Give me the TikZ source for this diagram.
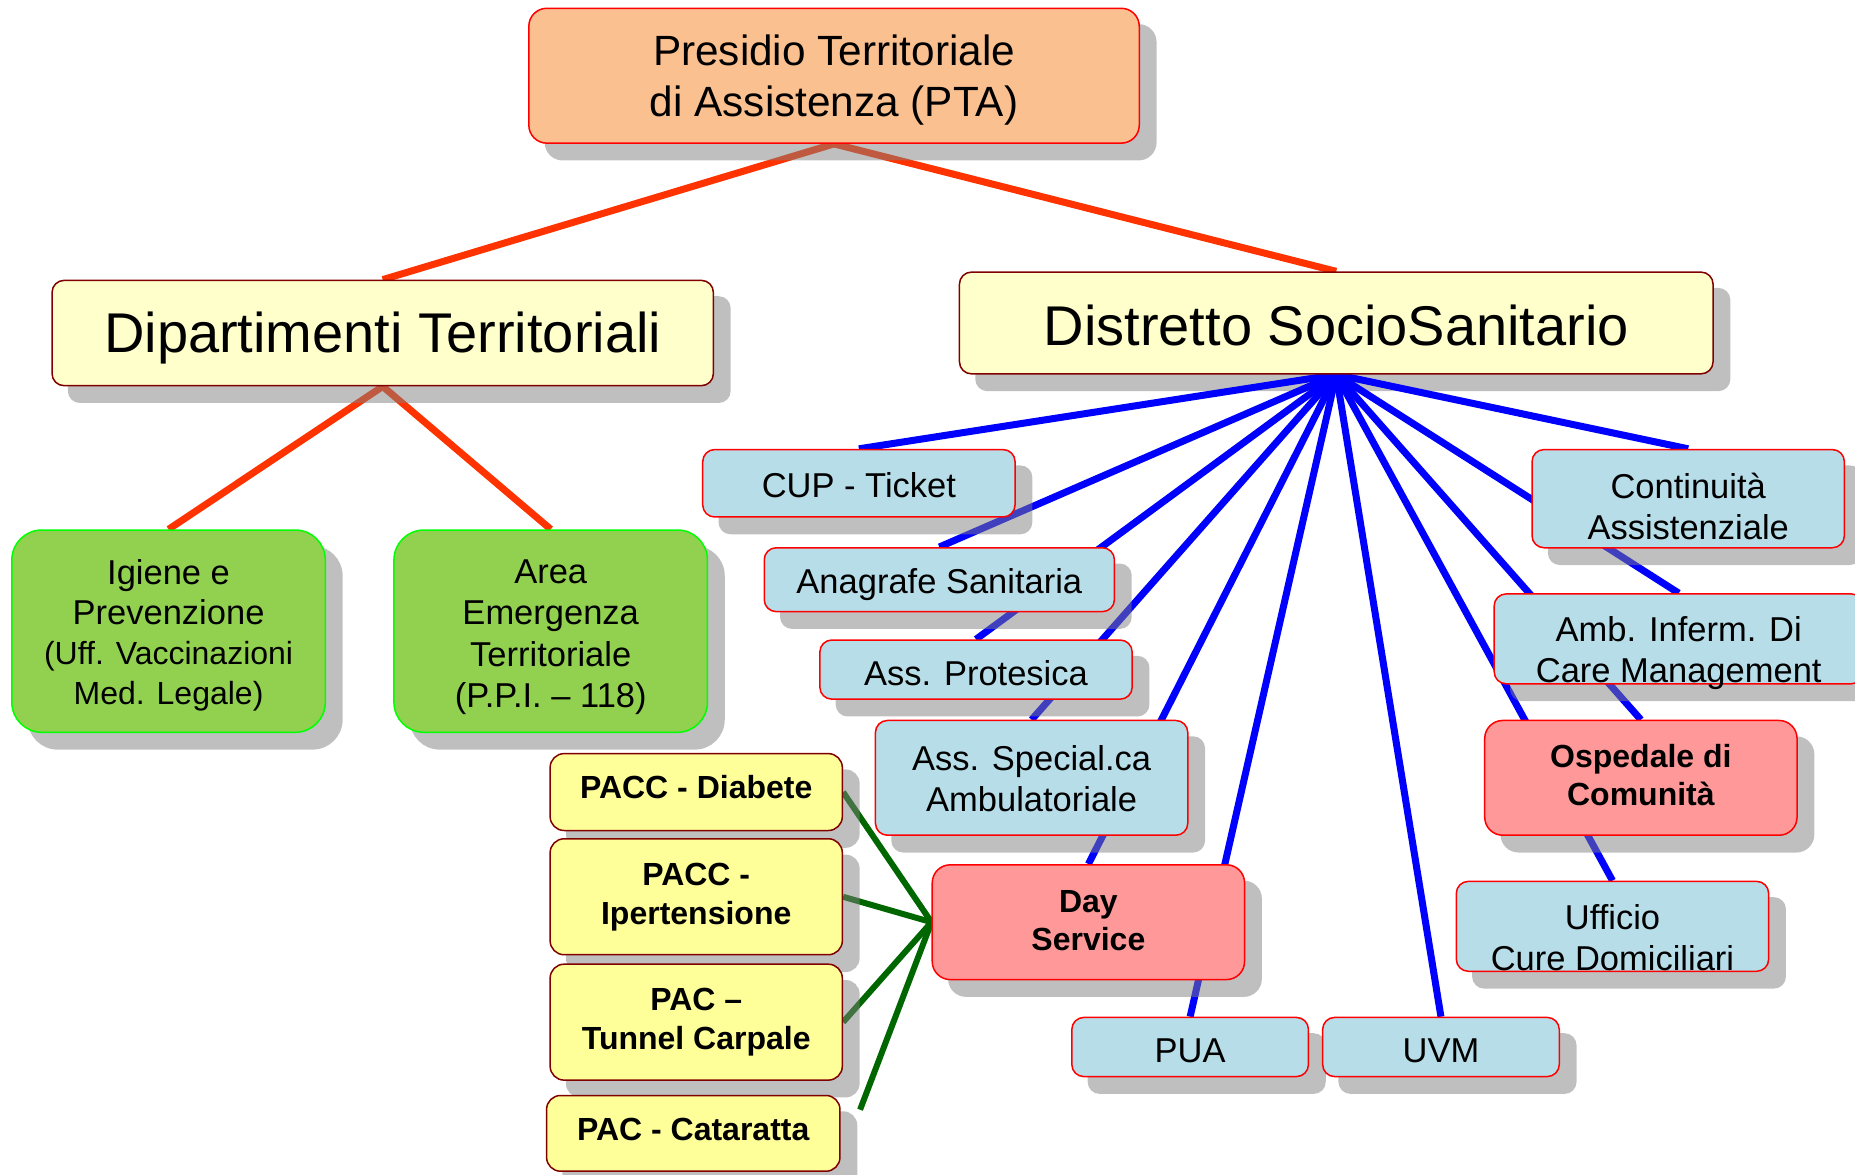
\documentclass[tikz,border=0pt]{standalone}
\usepackage{fontspec}
\setmainfont{Liberation Sans}
\definecolor{peach}{HTML}{FAC090}
\definecolor{lightyel}{HTML}{FFFFCC}
\definecolor{boxmaroon}{HTML}{800000}
\definecolor{grfill}{HTML}{92D050}
\definecolor{grline}{HTML}{00FF00}
\definecolor{bluefill}{HTML}{B7DDE8}
\definecolor{salmonfill}{HTML}{FF9999}
\definecolor{pacyel}{HTML}{FFFF99}
\definecolor{redline}{HTML}{FF3300}
\definecolor{blueline}{HTML}{0000FF}
\definecolor{greenline}{HTML}{006600}
\pgfdeclarelayer{lowshadow}
\pgfdeclarelayer{edgelayer}
\pgfdeclarelayer{shadowlayer}
\pgfsetlayers{lowshadow,edgelayer,shadowlayer,main}
\tikzset{
  base/.style={rectangle, inner sep=0pt, line width=1.5pt},
  sz/.style 2 args={minimum width=#1*1.183pt, minimum height=#2*1.183pt},
  txt/.style={inner sep=0pt, align=center, text=black},
  ptabox/.style={base, draw=red, fill=peach, rounded corners=18pt},
  yelbox/.style={base, draw=boxmaroon, fill=lightyel, rounded corners=12pt},
  grbox/.style={base, draw=grline, fill=grfill, rounded corners=30pt},
  bluebox/.style={base, draw=red, fill=bluefill, rounded corners=12pt},
  salbox/.style={base, draw=red, fill=salmonfill, rounded corners=18pt},
  pacbox/.style={base, draw=boxmaroon, fill=pacyel, rounded corners=14pt},
  ptatext/.style={txt, font=\fontsize{42.3}{51}\selectfont},
  yeltext/.style={txt, font=\fontsize{56}{60}\selectfont},
  grtext/.style={txt, font=\fontsize{34.5}{40}\selectfont},
  bluetext/.style={txt, font=\fontsize{34.5}{41}\selectfont},
  saltext/.style={txt, font=\bfseries\fontsize{32}{38}\selectfont},
  pactext/.style={txt, font=\bfseries\fontsize{32}{39}\selectfont},
  redconn/.style={draw=redline, line width=7pt},
  blueconn/.style={draw=blueline, line width=7pt},
  greenconn/.style={draw=greenline, line width=6pt},
  shadowfill/.style={fill=gray, opacity=0.5}
}
\begin{document}
\begin{tikzpicture}[x=1.183pt,y=-1.183pt]
\useasboundingbox (0,0) rectangle (1568,993);

% boxes
\node[ptabox, sz={516}{114}] (pta) at (705,64) {};
\node[yelbox, sz={559}{89}] (dip) at (323.5,281.5) {};
\node[yelbox, sz={637}{86}] (dis) at (1129.5,273) {};
\node[grbox, sz={265}{171}] (ig) at (142.5,533.5) {};
\node[grbox, sz={265}{171}] (ar) at (465.5,533.5) {};
\node[bluebox, sz={264}{57}] (cup) at (726,408.5) {};
\node[bluebox, sz={296}{54}] (ana) at (794,490) {};
\node[bluebox, sz={264}{50}] (pro) at (825,566) {};
\node[bluebox, sz={264}{97}] (spe) at (872,657.5) {};
\node[salbox, sz={264}{97}] (day) at (920,779.5) {};
\node[bluebox, sz={200}{50}] (pua) at (1006,885) {};
\node[bluebox, sz={200}{50}] (uvm) at (1218,885) {};
\node[bluebox, sz={264}{83}] (con) at (1427,421.5) {};
\node[bluebox, sz={312}{76}] (amb) at (1419,540) {};
\node[salbox, sz={264}{97}] (osp) at (1387,657.5) {};
\node[bluebox, sz={264}{76}] (uff) at (1363,783) {};
\node[pacbox, sz={247}{65}] (p1) at (588.5,669.5) {};
\node[pacbox, sz={247}{98}] (p2) at (588.5,758) {};
\node[pacbox, sz={247}{98}] (p3) at (588.5,864) {};
\node[pacbox, sz={248}{64}] (p4) at (586,958) {};
\coordinate (catend) at (727,938);

% texts
\node[ptatext] (ptatxt) at (705,67.5) {Presidio Territoriale\\di Assistenza (PTA)};
\node[yeltext] (diptxt) at (323.5,286) {Dipartimenti Territoriali};
\node[yeltext] (distxt) at (1129.5,275.5) {Distretto SocioSanitario};
\node[grtext] (igtxt) at (142.5,537) {Igiene e\\Prevenzione\\{\fontsize{32}{40}\selectfont (Uff. Vaccinazioni}\\{\fontsize{32}{40}\selectfont Med. Legale)}};
\node[grtext, font=\fontsize{34.5}{41.5}\selectfont] (artxt) at (465.5,538.5) {Area\\Emergenza\\Territoriale\\(P.P.I. – 118)};
\node[bluetext] (cuptxt) at (726,410.5) {CUP - Ticket};
\node[bluetext] (anatxt) at (794,494.5) {Anagrafe Sanitaria};
\node[bluetext] (protxt) at (825,569) {Ass. Protesica};
\node[bluetext] (spetxt) at (872,658.5) {Ass. Special.ca\\Ambulatoriale};
\node[saltext] (daytxt) at (920,778.5) {Day\\Service};
\node[bluetext] (puatxt) at (1006,888.5) {PUA};
\node[bluetext] (uvmtxt) at (1218,888.5) {UVM};
\node[bluetext] (contxt) at (1427,428.5) {Continuità\\Assistenziale};
\node[bluetext] (ambtxt) at (1419,552) {Amb. Inferm. Di\\Care Management};
\node[saltext] (osptxt) at (1387,655.5) {Ospedale di\\Comunità};
\node[bluetext] (ufftxt) at (1363,793) {Ufficio\\Cure Domiciliari};
\node[pactext] (p1txt) at (588.5,665.5) {PACC - Diabete};
\node[pactext] (p2txt) at (588.5,758.5) {PACC -\\Ipertensione};
\node[pactext] (p3txt) at (588.5,864) {PAC –\\Tunnel Carpale};
\node[pactext] (p4txt) at (586,955) {PAC - Cataratta};

% connectors
\begin{pgfonlayer}{edgelayer}
\draw[redconn] (pta.south) -- (dip.north);
\draw[redconn] (pta.south) -- (dis.north);
\draw[redconn] (dip.south) -- (ig.north);
\draw[redconn] (dip.south) -- (ar.north);
\foreach \t in {cup,ana,pro,spe,day,pua,uvm,con,amb,osp,uff}
  \draw[blueconn] (dis.south) -- (\t.north);
\foreach \t in {p1,p2,p3}
  \draw[greenconn] (day.west) -- (\t.east);
\draw[greenconn] (day.west) -- (catend);
\end{pgfonlayer}

% shadows
\begin{pgfonlayer}{lowshadow}
\fill[shadowfill, rounded corners=12pt] ([shift={(14,14)}]dis.south west) rectangle ([shift={(14,14)}]dis.north east);
\end{pgfonlayer}
\begin{pgfonlayer}{shadowlayer}
\foreach \n/\r in {pta/18,dip/12,ig/30,ar/30,cup/12,ana/12,pro/12,spe/12,day/18,pua/12,uvm/12,con/12,amb/12,osp/18,uff/12,p1/14,p2/14,p3/14,p4/14}
  \fill[shadowfill, rounded corners=\r pt] ([shift={(14,14)}]\n.south west) rectangle ([shift={(14,14)}]\n.north east);
\end{pgfonlayer}
\end{tikzpicture}
\end{document}
